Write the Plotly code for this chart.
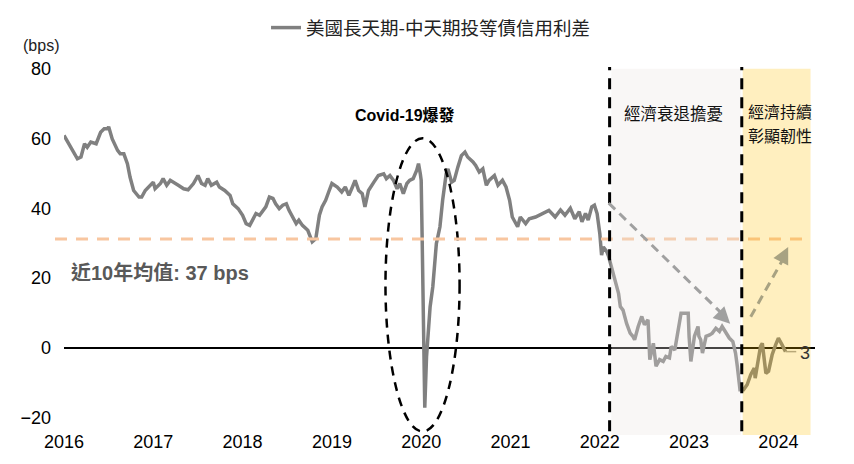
import plotly.graph_objects as go

# ---- data (decimal year, bps) ----
t = [2016.00, 2016.08, 2016.15, 2016.19, 2016.23, 2016.26, 2016.30, 2016.36, 2016.41, 2016.45,
     2016.49, 2016.50, 2016.54, 2016.60, 2016.63, 2016.67, 2016.71, 2016.74, 2016.78, 2016.84,
     2016.87, 2016.91, 2016.97, 2017.00, 2017.02, 2017.08, 2017.11, 2017.15, 2017.19, 2017.23,
     2017.28, 2017.34, 2017.39, 2017.45, 2017.50, 2017.54, 2017.58, 2017.61, 2017.65, 2017.71,
     2017.74, 2017.80, 2017.86, 2017.89, 2017.95, 2018.00, 2018.04, 2018.08, 2018.11, 2018.15,
     2018.19, 2018.23, 2018.26, 2018.30, 2018.34, 2018.37, 2018.41, 2018.45, 2018.49, 2018.52,
     2018.56, 2018.60, 2018.63, 2018.67, 2018.73, 2018.76, 2018.78, 2018.82, 2018.86, 2018.89,
     2018.93, 2018.97, 2019.00, 2019.06, 2019.11, 2019.15, 2019.19, 2019.23, 2019.26, 2019.30,
     2019.34, 2019.37, 2019.41, 2019.47, 2019.52, 2019.58, 2019.61, 2019.65, 2019.69, 2019.73,
     2019.76, 2019.80, 2019.84, 2019.87, 2019.91, 2019.95, 2019.97, 2019.99, 2020.00, 2020.01,
     2020.03, 2020.04, 2020.06, 2020.08, 2020.10, 2020.13, 2020.17, 2020.21, 2020.24, 2020.28,
     2020.30, 2020.34, 2020.37, 2020.41, 2020.45, 2020.49, 2020.52, 2020.58, 2020.61, 2020.65,
     2020.69, 2020.73, 2020.76, 2020.82, 2020.86, 2020.91, 2020.95, 2020.99, 2021.02, 2021.08,
     2021.11, 2021.17, 2021.21, 2021.28, 2021.36, 2021.43, 2021.50, 2021.56, 2021.61, 2021.67,
     2021.72, 2021.77, 2021.80, 2021.84, 2021.87, 2021.91, 2021.94, 2021.97, 2022.00, 2022.02,
     2022.04, 2022.08, 2022.10, 2022.13, 2022.17, 2022.21, 2022.23, 2022.26, 2022.30, 2022.34,
     2022.37, 2022.39, 2022.43, 2022.47, 2022.50, 2022.54, 2022.56, 2022.60, 2022.63, 2022.67,
     2022.71, 2022.74, 2022.78, 2022.80, 2022.84, 2022.87, 2022.91, 2022.95, 2022.99, 2023.00,
     2023.02, 2023.06, 2023.10, 2023.11, 2023.13, 2023.15, 2023.19, 2023.23, 2023.26, 2023.30,
     2023.34, 2023.37, 2023.41, 2023.45, 2023.49, 2023.52, 2023.54, 2023.57, 2023.61, 2023.65,
     2023.69, 2023.73, 2023.74, 2023.78, 2023.80, 2023.82, 2023.86, 2023.89, 2023.93, 2023.97,
     2024.00, 2024.04, 2024.08]
spread_bps = [60.9, 57.5, 54.2, 54.7, 58.5, 57.5, 59.0, 58.5, 61.8, 62.8,
              62.8, 63.4, 59.9, 56.6, 55.6, 55.6, 52.8, 48.9, 45.1, 43.2,
              43.2, 45.1, 46.6, 47.5, 45.6, 47.1, 48.5, 46.6, 48.0, 47.5,
              46.6, 45.6, 45.3, 47.1, 49.4, 47.1, 46.6, 48.5, 46.6, 47.5,
              46.1, 45.1, 43.7, 41.3, 39.9, 38.0, 35.6, 35.1, 36.6, 38.5,
              38.0, 39.4, 40.4, 43.2, 42.8, 41.3, 39.9, 40.9, 41.3, 39.4,
              37.5, 35.6, 36.6, 35.1, 33.7, 31.8, 30.4, 31.3, 38.0, 40.4,
              42.3, 45.1, 47.1, 46.1, 44.7, 46.1, 43.7, 46.1, 48.0, 45.1,
              44.2, 40.4, 45.1, 47.5, 49.4, 49.9, 48.5, 49.4, 48.0, 45.6,
              47.1, 44.2, 47.1, 48.0, 48.5, 50.9, 52.8, 49.9, 48.0, 32.8,
              4.2, -17.2, -2.5, 4.2, 11.8, 17.5, 29.9, 34.7, 42.3, 49.9,
              51.3, 47.5, 48.0, 51.8, 55.1, 56.1, 54.7, 53.3, 52.3, 50.4,
              51.3, 46.6, 48.0, 49.4, 46.6, 48.0, 46.1, 42.3, 37.5, 34.7,
              37.5, 35.6, 37.0, 37.5, 38.5, 39.4, 37.5, 39.5, 38.0, 40.0,
              37.0, 39.0, 36.1, 38.5, 36.6, 40.4, 40.9, 38.5, 32.8, 26.6,
              28.9, 27.5, 26.1, 23.2, 19.4, 15.6, 11.8, 10.8, 7.0, 4.2,
              3.3, 2.3, 6.1, 9.0, 6.6, 8.0, -3.4, 1.3, -5.3, -3.4,
              -3.9, -2.5, -2.9, 0.4, -0.6, 4.2, 9.9, 9.9, 9.9, 3.3,
              -3.9, 3.3, 6.1, 3.3, 2.3, -1.5, 3.3, 3.7, 4.2, 5.6,
              4.7, 6.1, 4.2, 2.8, 1.8, -1.5, -5.3, -12.0, -12.0, -10.6,
              -7.7, -5.8, -8.7, -2.9, 0.4, 1.3, -7.3, -6.7, -2.0, 0.9,
              2.8, 0.9, -1.1]

series_name = "美國長天期-中天期投等債信用利差"
year_ticks = [2016, 2017, 2018, 2019, 2020, 2021, 2022, 2023, 2024]
y_ticks = [-20, 0, 20, 40, 60, 80]
avg_line_value = 31.2
avg_label = "近10年均值: 37 bps"
last_label = "3"
recession_start, recession_end = 2022.13, 2023.58
resilience_start, resilience_end = 2023.60, 2024.36
divider_1, divider_2 = 2022.11, 2023.59

FONT = "Liberation Sans, Arial, Noto Sans CJK TC, sans-serif"
CJK = "Noto Sans CJK TC, Liberation Sans, sans-serif"

fig = go.Figure()
fig.add_trace(go.Scatter(x=t, y=spread_bps, mode="lines", name=series_name,
                         line=dict(color="#808080", width=3.5)))

shapes = []
# ellipse around covid
shapes.append(dict(type="circle", xref="x", yref="y", x0=2019.60, x1=2020.43, y0=-24.0, y1=60.1,
                   line=dict(color="black", width=2.5, dash="9px,7px"), layer="above"))
# average line
shapes.append(dict(type="line", xref="paper", yref="y", x0=-0.012, x1=0.9934,
                   y0=avg_line_value, y1=avg_line_value,
                   line=dict(color="#F8C6A0", width=3, dash="12px,9px"), layer="above"))
# leader to last label
shapes.append(dict(type="line", xref="x", yref="y", x0=2024.08, x1=2024.20, y0=-1.1, y1=-1.1,
                   line=dict(color="#A0A0A0", width=1.5), layer="above"))
# shaded regions
shapes.append(dict(type="rect", xref="x", yref="paper", x0=recession_start, x1=recession_end,
                   y0=0, y1=1, fillcolor="rgba(235,230,225,0.3)", line=dict(width=0), layer="above"))
shapes.append(dict(type="rect", xref="x", yref="paper", x0=resilience_start, x1=resilience_end,
                   y0=0, y1=1, fillcolor="rgba(255,192,0,0.25)", line=dict(width=0), layer="above"))
# vertical dividers
for xd in (divider_1, divider_2):
    shapes.append(dict(type="line", xref="x", yref="paper", x0=xd, x1=xd, y0=0.01, y1=1.005,
                       line=dict(color="black", width=3, dash="11px,8px"), layer="above"))
# trend arrows (dashed shafts)
shapes.append(dict(type="line", xref="x", yref="y", x0=2022.10, y0=41.5, x1=2023.38, y1=9.5,
                   line=dict(color="#A0A0A0", width=3, dash="9px,6px"), layer="above"))
shapes.append(dict(type="line", xref="x", yref="y", x0=2023.69, y0=8.9, x1=2024.06, y1=25.8,
                   line=dict(color="rgb(168,162,130)", width=3, dash="9px,6px"), layer="above"))

annotations = [
    dict(text="(bps)", xref="paper", yref="paper", x=-0.0568, y=1.063, xanchor="left", yanchor="middle",
         showarrow=False, font=dict(family=FONT, size=16, color="#222")),
    dict(text="<b>Covid-19爆發</b>", xref="x", yref="y", x=2019.82, y=66.7, showarrow=False,
         font=dict(family=FONT, size=16, color="black")),
    dict(text="經濟衰退擔憂", xref="x", yref="y", x=2022.82, y=67.2, showarrow=False,
         font=dict(family=CJK, size=16.5, color="#111")),
    dict(text="經濟持續", xref="x", yref="y", x=2024.02, y=67.9, showarrow=False,
         font=dict(family=CJK, size=16, color="#111")),
    dict(text="彰顯韌性", xref="x", yref="y", x=2024.02, y=61.1, showarrow=False,
         font=dict(family=CJK, size=16, color="#111")),
    dict(text="<b>" + avg_label + "</b>", xref="x", yref="y", x=2016.06, y=21.5, xanchor="left",
         showarrow=False, font=dict(family=FONT, size=20, color="#595959")),
    dict(text=last_label, xref="x", yref="y", x=2024.30, y=-1.4, showarrow=False,
         font=dict(family=FONT, size=18, color="#333")),
    # arrow heads
    dict(text="", x=2023.46, y=6.9, xref="x", yref="y", ax=-12, ay=-12, showarrow=True,
         arrowhead=2, arrowsize=1.1, arrowwidth=3, arrowcolor="#A0A0A0"),
    dict(text="", x=2024.11, y=28.9, xref="x", yref="y", ax=-7, ay=14, showarrow=True,
         arrowhead=2, arrowsize=1.1, arrowwidth=3, arrowcolor="rgb(168,162,130)"),
]

fig.update_layout(
    width=846, height=456,
    margin=dict(l=50, r=39, t=60, b=29),
    paper_bgcolor="white", plot_bgcolor="white",
    font=dict(family=FONT, size=18, color="black"),
    shapes=shapes, annotations=annotations,
    showlegend=True,
    legend=dict(orientation="h", xref="container", yref="container", x=0.305, y=0.956,
                xanchor="left", yanchor="middle", font=dict(family=CJK, size=18.5, color="#222"),
                bgcolor="rgba(0,0,0,0)"),
)
fig.update_xaxes(range=[2016.0, 2024.41], tickvals=year_ticks, ticktext=[str(y) for y in year_ticks],
                 showgrid=False, zeroline=False, showline=False, ticks="",
                 tickfont=dict(family=FONT, size=18, color="black"), ticklabelstandoff=-6)
fig.update_yaxes(range=[-25, 80], tickvals=y_ticks, showgrid=False, zeroline=True,
                 zerolinecolor="black", zerolinewidth=1.5, showline=False, ticks="",
                 tickfont=dict(family=FONT, size=18, color="black"), ticklabelstandoff=12)

fig.write_html("out.html")
